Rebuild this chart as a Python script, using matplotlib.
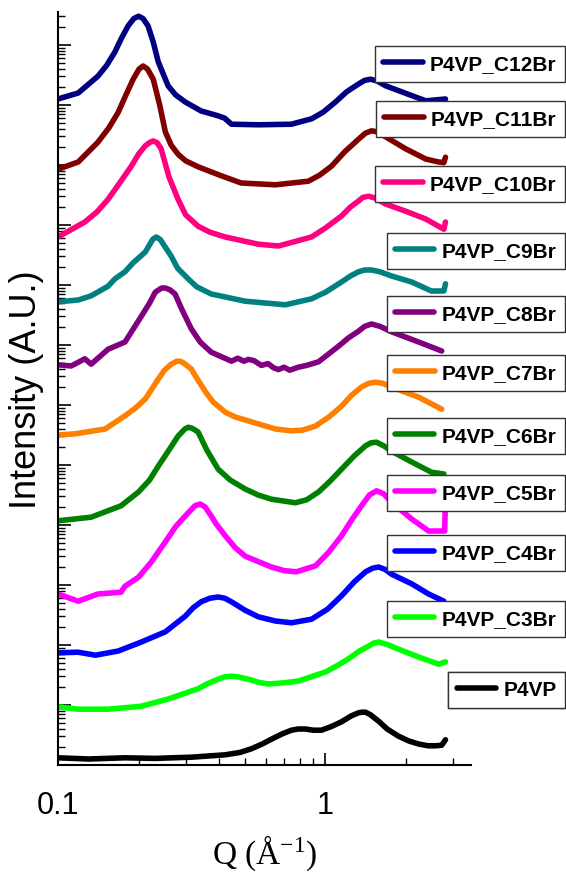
import matplotlib
matplotlib.use("Agg")

import matplotlib.pyplot as plt
import numpy as np
from matplotlib.ticker import LogLocator, NullFormatter

# Q in 1/Angstrom, intensity stored as log10(I) (stacked, a.u.)
Q_C12 = [0.100, 0.119, 0.141, 0.152, 0.163, 0.173, 0.183, 0.192, 0.200, 0.208, 0.217, 0.227,
         0.237, 0.258, 0.275, 0.299, 0.343, 0.397, 0.420, 0.445, 0.561, 0.746, 0.887, 0.98,
         1.090, 1.20, 1.329, 1.40, 1.475, 1.56, 1.678, 1.926, 2.37, 2.81]
L_C12 = [11.10, 11.20, 11.48, 11.66, 11.88, 12.12, 12.32, 12.44, 12.48, 12.44, 12.32, 12.05,
         11.72, 11.32, 11.17, 11.05, 10.90, 10.82, 10.78, 10.68, 10.67, 10.68, 10.77, 10.88,
         11.05, 11.22, 11.35, 11.41, 11.43, 11.40, 11.32, 11.22, 11.07, 11.10]

Q_C11 = [0.100, 0.119, 0.141, 0.155, 0.168, 0.180, 0.191, 0.201, 0.208, 0.216, 0.227, 0.240,
         0.252, 0.265, 0.281, 0.300, 0.334, 0.408, 0.484, 0.650, 0.863, 0.95, 1.053, 1.18,
         1.329, 1.41, 1.487, 1.57, 1.678, 1.994, 2.37, 2.65, 2.77, 2.81]
L_C11 = [9.93, 10.05, 10.38, 10.62, 10.88, 11.18, 11.43, 11.60, 11.65, 11.60, 11.43, 11.00,
         10.55, 10.33, 10.18, 10.07, 9.97, 9.82, 9.70, 9.67, 9.73, 9.83, 9.98, 10.22,
         10.43, 10.53, 10.57, 10.55, 10.47, 10.27, 10.10, 10.05, 10.04, 10.13]

Q_C10 = [0.100, 0.126, 0.140, 0.154, 0.170, 0.188, 0.200, 0.212, 0.221, 0.227, 0.235, 0.243,
         0.260, 0.281, 0.300, 0.334, 0.370, 0.422, 0.561, 0.667, 0.887, 1.0, 1.148, 1.24,
         1.329, 1.38, 1.449, 1.53, 1.678, 1.994, 2.37, 2.77, 2.81]
L_C10 = [8.80, 9.05, 9.22, 9.43, 9.70, 9.98, 10.18, 10.32, 10.38, 10.40, 10.37, 10.27,
         9.80, 9.43, 9.17, 8.98, 8.88, 8.80, 8.68, 8.65, 8.80, 8.95, 9.15, 9.30,
         9.40, 9.46, 9.48, 9.45, 9.35, 9.23, 9.10, 8.93, 9.05]

Q_C9 = [0.100, 0.119, 0.133, 0.154, 0.163, 0.178, 0.190, 0.212, 0.226, 0.233, 0.241, 0.265,
        0.280, 0.307, 0.330, 0.374, 0.501, 0.708, 0.887, 1.0, 1.148, 1.24, 1.329, 1.40,
        1.487, 1.60, 1.767, 2.10, 2.49, 2.77, 2.81]
L_C9 = [7.72, 7.75, 7.82, 7.98, 8.10, 8.22, 8.36, 8.55, 8.76, 8.80, 8.76, 8.48,
        8.28, 8.10, 7.97, 7.85, 7.73, 7.67, 7.77, 7.88, 8.05, 8.15, 8.22, 8.25,
        8.25, 8.22, 8.15, 8.05, 7.90, 7.90, 8.02]

Q_C8 = [0.100, 0.112, 0.126, 0.133, 0.154, 0.178, 0.205, 0.220, 0.231, 0.244, 0.252, 0.262,
        0.274, 0.290, 0.315, 0.340, 0.374, 0.445, 0.470, 0.495, 0.515, 0.540, 0.576, 0.610,
        0.640, 0.667, 0.700, 0.735, 0.792, 0.850, 0.942, 1.02, 1.119, 1.22, 1.329, 1.40,
        1.487, 1.60, 1.767, 2.23, 2.72]
L_C8 = [6.67, 6.65, 6.77, 6.68, 6.93, 7.05, 7.48, 7.70, 7.88, 7.95, 7.95, 7.92,
        7.85, 7.60, 7.27, 7.05, 6.88, 6.73, 6.78, 6.73, 6.76, 6.74, 6.66, 6.69,
        6.62, 6.59, 6.63, 6.58, 6.63, 6.66, 6.72, 6.84, 6.98, 7.12, 7.23, 7.31,
        7.35, 7.31, 7.22, 7.05, 6.90]

Q_C7 = [0.100, 0.116, 0.150, 0.178, 0.195, 0.212, 0.237, 0.250, 0.265, 0.278, 0.286, 0.295,
        0.315, 0.330, 0.356, 0.380, 0.422, 0.460, 0.528, 0.650, 0.746, 0.82, 0.918, 1.03,
        1.148, 1.25, 1.364, 1.45, 1.539, 1.64, 1.767, 2.23, 2.72]
L_C7 = [5.50, 5.52, 5.60, 5.82, 5.95, 6.10, 6.43, 6.58, 6.68, 6.73, 6.73, 6.70,
        6.60, 6.45, 6.22, 6.05, 5.88, 5.80, 5.72, 5.60, 5.57, 5.58, 5.65, 5.80,
        5.98, 6.16, 6.30, 6.36, 6.38, 6.36, 6.30, 6.13, 5.93]

Q_C6 = [0.100, 0.133, 0.172, 0.200, 0.220, 0.237, 0.260, 0.281, 0.298, 0.307, 0.318, 0.334,
        0.360, 0.397, 0.440, 0.501, 0.560, 0.628, 0.772, 0.850, 0.942, 1.04, 1.148, 1.28,
        1.412, 1.48, 1.552, 1.65, 1.767, 2.10, 2.49, 2.77]
L_C6 = [4.07, 4.13, 4.32, 4.55, 4.75, 4.98, 5.25, 5.48, 5.60, 5.63, 5.61, 5.55,
        5.25, 4.93, 4.75, 4.60, 4.50, 4.43, 4.37, 4.42, 4.55, 4.73, 4.93, 5.15,
        5.32, 5.37, 5.38, 5.32, 5.23, 5.05, 4.88, 4.85]

Q_C5 = [0.100, 0.119, 0.141, 0.172, 0.178, 0.200, 0.223, 0.252, 0.275, 0.299, 0.325, 0.340,
        0.355, 0.374, 0.390, 0.422, 0.460, 0.501, 0.628, 0.700, 0.778, 0.918, 1.03, 1.148,
        1.26, 1.364, 1.46, 1.552, 1.65, 1.767, 2.10, 2.43, 2.79, 2.81]
L_C5 = [2.85, 2.73, 2.85, 2.88, 2.98, 3.13, 3.38, 3.72, 3.97, 4.15, 4.32, 4.35,
        4.30, 4.15, 4.02, 3.82, 3.62, 3.48, 3.30, 3.24, 3.22, 3.32, 3.55, 3.82,
        4.10, 4.32, 4.50, 4.57, 4.52, 4.38, 4.10, 3.90, 3.90, 4.45]

Q_C4 = [0.100, 0.119, 0.138, 0.168, 0.205, 0.252, 0.299, 0.320, 0.343, 0.370, 0.397, 0.420,
        0.445, 0.500, 0.561, 0.650, 0.746, 0.887, 1.02, 1.148, 1.28, 1.412, 1.50, 1.580,
        1.67, 1.767, 2.10, 2.43, 2.77]
L_C4 = [1.87, 1.88, 1.83, 1.90, 2.05, 2.22, 2.48, 2.62, 2.72, 2.78, 2.80, 2.78,
        2.72, 2.58, 2.47, 2.40, 2.37, 2.43, 2.60, 2.82, 3.05, 3.22, 3.28, 3.30,
        3.26, 3.18, 3.02, 2.85, 2.73]

Q_C3 = [0.100, 0.119, 0.154, 0.205, 0.258, 0.334, 0.360, 0.397, 0.420, 0.445, 0.470, 0.515,
        0.560, 0.612, 0.700, 0.792, 1.000, 1.10, 1.219, 1.34, 1.449, 1.51, 1.580, 1.70,
        1.876, 2.23, 2.65, 2.81]
L_C3 = [0.97, 0.93, 0.93, 0.98, 1.10, 1.27, 1.35, 1.43, 1.47, 1.48, 1.47, 1.43,
        1.38, 1.35, 1.37, 1.40, 1.55, 1.65, 1.77, 1.90, 1.98, 2.03, 2.05, 2.01,
        1.93, 1.80, 1.68, 1.72]

Q_P4VP = [0.100, 0.130, 0.178, 0.230, 0.315, 0.422, 0.480, 0.528, 0.580, 0.628, 0.690, 0.746,
          0.790, 0.841, 0.900, 0.966, 1.05, 1.148, 1.25, 1.329, 1.37, 1.412, 1.47, 1.580,
          1.70, 1.876, 2.05, 2.23, 2.42, 2.58, 2.72, 2.81]
L_P4VP = [0.12, 0.10, 0.12, 0.11, 0.13, 0.17, 0.21, 0.27, 0.35, 0.43, 0.52, 0.58,
          0.60, 0.60, 0.58, 0.58, 0.64, 0.72, 0.82, 0.87, 0.88, 0.88, 0.84, 0.73,
          0.60, 0.48, 0.40, 0.35, 0.32, 0.32, 0.33, 0.42]

LABELS = ["P4VP_C12Br", "P4VP_C11Br", "P4VP_C10Br", "P4VP_C9Br", "P4VP_C8Br",
          "P4VP_C7Br", "P4VP_C6Br", "P4VP_C5Br", "P4VP_C4Br", "P4VP_C3Br", "P4VP"]
COLORS = ["#000080", "#800000", "#FF0080", "#008080", "#800080",
          "#FF8000", "#008000", "#FF00FF", "#0000FF", "#00FF00", "#000000"]
Q_ALL = [Q_C12, Q_C11, Q_C10, Q_C9, Q_C8, Q_C7, Q_C6, Q_C5, Q_C4, Q_C3, Q_P4VP]
L_ALL = [L_C12, L_C11, L_C10, L_C9, L_C8, L_C7, L_C6, L_C5, L_C4, L_C3, L_P4VP]

# legend box top edges, pixels from top of figure
LEGEND_TOPS = [47, 102, 167, 234, 297, 356, 419, 476, 536, 602, 673]

X_TICKS = [0.1, 1]
X_TICK_LABELS = ["0.1", "1"]

W, H = 566, 879
fig = plt.figure(figsize=(W / 100, H / 100), dpi=100)
ax = fig.add_axes([58 / W, 1 - 766 / H, (471 - 58) / W, (766 - 13) / H])

lines = []
for q, l, c in zip(Q_ALL, L_ALL, COLORS):
    ln, = ax.plot(q, 10 ** np.array(l), color=c, lw=4.0,
                  solid_joinstyle="round", solid_capstyle="round")
    lines.append(ln)

ax.set_xscale("log")
ax.set_yscale("log")
ax.set_xlim(0.1, 3.5)
ax.set_ylim(1, 10 ** 12.55)

for s in ["top", "right"]:
    ax.spines[s].set_visible(False)
for s in ["left", "bottom"]:
    ax.spines[s].set_linewidth(1.5)

ax.yaxis.set_major_locator(LogLocator(base=10, numticks=30))
ax.yaxis.set_minor_locator(LogLocator(base=10, subs=np.arange(2, 10), numticks=30))
ax.yaxis.set_major_formatter(NullFormatter())
ax.yaxis.set_minor_formatter(NullFormatter())

ax.set_xticks(X_TICKS, labels=X_TICK_LABELS)
ax.xaxis.set_minor_locator(LogLocator(base=10, subs=np.arange(2, 10), numticks=10))
ax.xaxis.set_minor_formatter(NullFormatter())

ax.tick_params(which="major", direction="in", length=9, width=1.2, pad=18)
ax.tick_params(which="minor", direction="in", length=5, width=1.0)
for t in ax.get_xticklabels():
    t.set_fontfamily("Liberation Sans")
    t.set_fontsize(22)

ax.set_ylabel("Intensity (A.U.)", fontsize=26, family="Liberation Sans")
ax.yaxis.set_label_coords(-0.035, 0.5)
plt.rcParams["mathtext.default"] = "regular"
ax.set_xlabel("Q (Å$^{-1}$)", fontsize=24, family="Liberation Serif")
ax.xaxis.set_label_coords(0.5, -0.09)

for ln, lab, top in zip(lines, LABELS, LEGEND_TOPS):
    leg = ax.legend([ln], [lab], loc="upper right",
                    bbox_to_anchor=(565 / W, 1 - top / H), bbox_transform=fig.transFigure,
                    borderaxespad=0, frameon=True, fancybox=False, shadow=False,
                    framealpha=1, edgecolor="#333333", borderpad=0.4,
                    handlelength=1.9, handletextpad=0.35,
                    prop={"family": "Liberation Sans", "weight": "bold", "size": 15})
    leg.get_frame().set_linewidth(1.0)
    for h in leg.get_lines():
        h.set_linewidth(4)
    ax.add_artist(leg)

fig.savefig("out.png", dpi=100)
